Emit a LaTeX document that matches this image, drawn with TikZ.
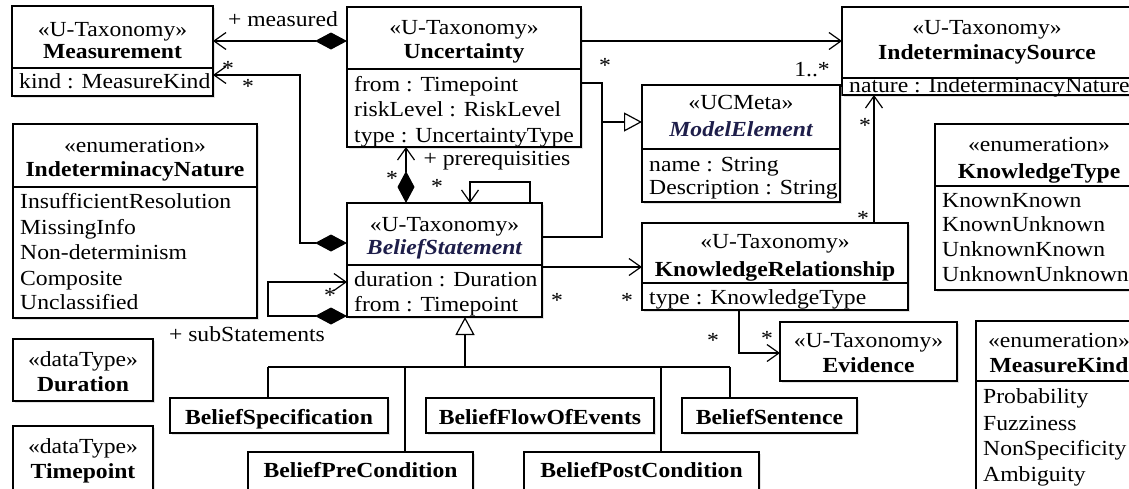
\documentclass[tikz,border=0pt]{standalone}
\usepackage{fontspec}
\setmainfont{Liberation Serif}[FakeStretch=1.1]
\usetikzlibrary{arrows.meta,shadows}
\definecolor{absname}{HTML}{1E1E4A}
\newcommand\umlfont{\fontsize{21.5}{25}\selectfont}
% class box: name, left, top, right, bottom (y grows downwards)
\newcommand\umlbox[5]{\node[box, minimum width={#4-#2}, minimum height={#5-#3}] (#1) at (#2,#3) {};}
% compartment separator: box name, y
\newcommand\umlsep[2]{\draw[boxline] (#1.west |- 0,#2) -- (#1.east |- 0,#2);}
\tikzset{
  box/.style={draw, line width=1.2pt, fill=white, anchor=north west, inner sep=0pt, outer sep=0pt,
    drop shadow={shadow xshift=2pt, shadow yshift=-2pt, fill=black!22}},
  boxline/.style={line width=1.2pt},
  conn/.style={line width=1.2pt},
  txt/.style={anchor=base, font=\umlfont, inner sep=0pt},
  lt/.style={anchor=base west, font=\umlfont, inner sep=0pt, xshift=7pt},
  bold/.style={txt, font=\umlfont\bfseries},
  abstr/.style={txt, font=\umlfont\bfseries\itshape, text=absname},
  mult/.style={anchor=center, font=\umlfont, inner sep=0pt},
  navi/.tip={Straight Barb[length=12pt,width=17pt]},
  comp/.tip={Diamond[length=32pt,width=17pt]},
  gen/.tip={Triangle[open,length=18pt,width=19pt]},
}
\begin{document}
\begin{tikzpicture}[x=1pt,y=-1pt]
\useasboundingbox (0,0) rectangle (1129,488);
\clip (0,0) rectangle (1129,488);

% ---- classes ----
\umlbox{meas}{12}{6}{213}{96}
\umlsep{meas}{68}
\node[txt]  at (meas.north |- 0,36) {«U-Taxonomy»};
\node[bold] at (meas.north |- 0,58) {Measurement};
\node[lt]   at (meas.west |- 0,88) {kind : MeasureKind};

\umlbox{unc}{347}{7}{581}{147}
\umlsep{unc}{69}
\node[txt]  at (unc.north |- 0,34) {«U-Taxonomy»};
\node[bold] at (unc.north |- 0,58) {Uncertainty};
\node[lt]   at (unc.west |- 0,91) {from : Timepoint};
\node[lt]   at (unc.west |- 0,116) {riskLevel : RiskLevel};
\node[lt]   at (unc.west |- 0,142) {type : UncertaintyType};

\umlbox{isrc}{842}{7}{1132}{95}
\umlsep{isrc}{78}
\node[txt]  at (isrc.north |- 0,34) {«U-Taxonomy»};
\node[bold] at (isrc.north |- 0,59) {IndeterminacySource};
\node[lt]   at (isrc.west |- 0,92) {nature : IndeterminacyNature};

\umlbox{me}{642}{85}{840}{202}
\umlsep{me}{149}
\node[txt]   at (me.north |- 0,109) {«UCMeta»};
\node[abstr] at (me.north |- 0,136) {ModelElement};
\node[lt]    at (me.west |- 0,171) {name : String};
\node[lt]    at (me.west |- 0,194) {Description : String};

\umlbox{inat}{13}{124}{257}{318}
\umlsep{inat}{187}
\node[txt]  at (inat.north |- 0,152) {«enumeration»};
\node[bold] at (inat.north |- 0,176) {IndeterminacyNature};
\node[lt]   at (inat.west |- 0,208) {InsufficientResolution};
\node[lt]   at (inat.west |- 0,234) {MissingInfo};
\node[lt]   at (inat.west |- 0,259) {Non-determinism};
\node[lt]   at (inat.west |- 0,285) {Composite};
\node[lt]   at (inat.west |- 0,309) {Unclassified};

\umlbox{ktype}{935}{124}{1143}{290}
\umlsep{ktype}{186}
\node[txt]  at (ktype.north |- 0,151) {«enumeration»};
\node[bold] at (ktype.north |- 0,178) {KnowledgeType};
\node[lt]   at (ktype.west |- 0,207) {KnownKnown};
\node[lt]   at (ktype.west |- 0,231) {KnownUnknown};
\node[lt]   at (ktype.west |- 0,256) {UnknownKnown};
\node[lt]   at (ktype.west |- 0,281) {UnknownUnknown};

\umlbox{bs}{347}{203}{542}{317}
\umlsep{bs}{265}
\node[txt]   at (bs.north |- 0,231) {«U-Taxonomy»};
\node[abstr] at (bs.north |- 0,254) {BeliefStatement};
\node[lt]    at (bs.west |- 0,286) {duration : Duration};
\node[lt]    at (bs.west |- 0,311) {from : Timepoint};

\umlbox{kr}{642}{223}{908}{310}
\umlsep{kr}{283}
\node[txt]  at (kr.north |- 0,248) {«U-Taxonomy»};
\node[bold] at (kr.north |- 0,276) {KnowledgeRelationship};
\node[lt]   at (kr.west |- 0,304) {type : KnowledgeType};

\umlbox{ev}{780}{322}{957}{381}
\node[txt]  at (ev.north |- 0,347) {«U-Taxonomy»};
\node[bold] at (ev.north |- 0,372) {Evidence};

\umlbox{mkind}{976}{321}{1142}{496}
\umlsep{mkind}{381}
\node[txt]  at (mkind.north |- 0,347) {«enumeration»};
\node[bold] at (mkind.north |- 0,372) {MeasureKind};
\node[lt]   at (mkind.west |- 0,403) {Probability};
\node[lt]   at (mkind.west |- 0,430) {Fuzziness};
\node[lt]   at (mkind.west |- 0,455) {NonSpecificity};
\node[lt]   at (mkind.west |- 0,481) {Ambiguity};

\umlbox{dur}{13}{339}{153}{401}
\node[txt]  at (dur.north |- 0,366) {«dataType»};
\node[bold] at (dur.north |- 0,391) {Duration};

\umlbox{tp}{13}{426}{153}{496}
\node[txt]  at (tp.north |- 0,453) {«dataType»};
\node[bold] at (tp.north |- 0,478) {Timepoint};

\umlbox{bspec}{170}{398}{388}{433}
\node[bold] at (bspec.north |- 0,424) {BeliefSpecification};
\umlbox{bfoe}{426}{398}{654}{433}
\node[bold] at (bfoe.north |- 0,424) {BeliefFlowOfEvents};
\umlbox{bsent}{682}{398}{857}{433}
\node[bold] at (bsent.north |- 0,424) {BeliefSentence};
\umlbox{bpre}{248}{452}{473}{496}
\node[bold] at (bpre.north |- 0,477) {BeliefPreCondition};
\umlbox{bpost}{524}{452}{759}{496}
\node[bold] at (bpost.north |- 0,477) {BeliefPostCondition};

% ---- associations ----
\draw[conn, comp-navi] (unc.west |- 0,41) -- (meas.east |- 0,41);
\node[txt] at (283,26) {+ measured};

\draw[conn, comp-navi] (bs.west |- 0,243) -- (300,243) -- (300,75) -- (meas.east |- 0,75);
\node[mult] at (228,68) {*};
\node[mult] at (248,86) {*};

\draw[conn, -navi] (unc.east |- 0,41) -- (isrc.west |- 0,41);
\node[mult] at (605,65) {*};
\node[txt] at (812,76) {1..*};

\draw[conn, comp-navi] (bs.north -| 406,0) -- (unc.south -| 406,0);
\node[mult] at (392,178) {*};
\node[txt] at (497,165) {+ prerequisities};
\node[mult] at (437,186) {*};

\draw[conn, -navi] (bs.north -| 530,0) -- (530,182) -- (470,182) -- (bs.north -| 470,0);

\draw[conn, comp-navi] (bs.west |- 0,316) -- (268,316) -- (268,282) -- (bs.west |- 0,282);
\node[mult] at (330,295) {*};
\node[txt] at (247,341) {+ subStatements};

\draw[conn, -navi] (bs.east |- 0,267) -- (kr.west |- 0,267);
\node[mult] at (557,300) {*};
\node[mult] at (627,300) {*};

\draw[conn, -navi] (kr.north -| 874,0) -- (isrc.south -| 874,0);
\node[mult] at (865,125) {*};
\node[mult] at (863,218) {*};

\draw[conn, -navi] (kr.south -| 739,0) -- (739,353) -- (ev.west |- 0,353);
\node[mult] at (713,340) {*};
\node[mult] at (767,338) {*};

% ---- generalizations ----
\draw[conn] (unc.east |- 0,83) -- (602,83) -- (602,237) -- (bs.east |- 0,237);
\draw[conn, -gen] (602,122) -- (me.west |- 0,122);

\draw[conn, -gen] (465,367) -- (bs.south -| 465,0);
\draw[conn] (268,367) -- (730,367);
\draw[conn] (bspec.north -| 268,0) -- (268,367);
\draw[conn] (bpre.north -| 405,0) -- (405,367);
\draw[conn] (bpost.north -| 661,0) -- (661,367);
\draw[conn] (bsent.north -| 730,0) -- (730,367);
\end{tikzpicture}
\end{document}
